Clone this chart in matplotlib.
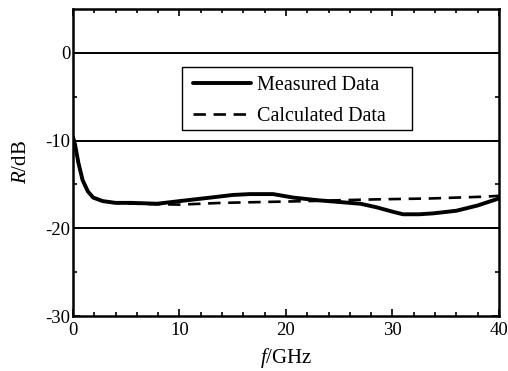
import matplotlib
matplotlib.use("Agg")
import matplotlib.pyplot as plt
from matplotlib.patches import Rectangle
import numpy as np

plt.rcParams['font.family'] = ['Liberation Serif', 'DejaVu Serif']
plt.rcParams['mathtext.fontset'] = 'custom'
plt.rcParams['mathtext.it'] = 'Liberation Serif:italic'
plt.rcParams['mathtext.rm'] = 'Liberation Serif'
plt.rcParams['axes.unicode_minus'] = False

# Measured data (f in GHz, R in dB)
meas_f = [0.0, 0.2, 0.5, 0.9, 1.4, 1.9, 2.8, 4.0, 5.5, 7.9, 10.0, 12.9, 15.0, 16.6,
          18.8, 20.7, 23.0, 25.0, 27.0, 28.5, 30.0, 31.0, 32.5, 33.8, 36.0, 38.0, 39.0, 40.0]
meas_R = [-9.6, -10.5, -12.5, -14.5, -15.8, -16.5, -16.9, -17.1, -17.1, -17.2, -16.9, -16.5, -16.2, -16.1,
          -16.1, -16.5, -16.8, -17.0, -17.2, -17.6, -18.1, -18.4, -18.4, -18.3, -18.0, -17.4, -17.0, -16.6]

# Calculated data
calc_f = [0.0, 0.2, 0.5, 0.9, 1.4, 1.9, 2.8, 4.0, 6.0, 10.0, 14.0, 17.9, 22.0, 25.0, 28.5, 33.5, 38.5, 40.0]
calc_R = [-9.6, -10.5, -12.5, -14.5, -15.8, -16.5, -16.9, -17.1, -17.2, -17.3, -17.1, -17.0, -16.9, -16.8, -16.7, -16.6, -16.4, -16.3]

xticks = [0, 10, 20, 30, 40]
yticks = [-30, -20, -10, 0]

fig = plt.figure(figsize=(5.08, 3.71), dpi=100)
ax = fig.add_axes([0.1437, 0.148, 0.8383, 0.828])

for y in [-20, -10, 0]:
    ax.axhline(y, color='black', lw=1.4, zorder=1)

ax.plot(meas_f, meas_R, color='black', lw=2.8, solid_capstyle='round', label='Measured Data', zorder=3)
ax.plot(calc_f, calc_R, color='black', lw=1.9, dashes=(4.7, 2.9), label='Calculated Data', zorder=2)

ax.set_xlim(0, 40)
ax.set_ylim(-30, 5)
ax.set_xticks(xticks)
ax.set_yticks(yticks)
ax.set_xticks(np.arange(0, 41, 2), minor=True)
ax.set_yticks([-25, -15, -5], minor=True)
ax.tick_params(which='both', direction='in', top=True, right=True, labelsize=13.5, width=1.2)
ax.tick_params(axis='x', which='both', pad=4)
ax.tick_params(axis='y', which='both', pad=2)
ax.tick_params(which='major', length=5)
ax.tick_params(which='minor', length=3)
for s in ax.spines.values():
    s.set_linewidth(1.8)

ax.set_xlabel('$f$/GHz', fontsize=15, labelpad=5)
ax.set_ylabel('$R$/dB', fontsize=15, labelpad=10)

# legend frame drawn separately so it can be wider than its content
ax.add_patch(Rectangle((0.256, 0.606), 0.54, 0.205, transform=ax.transAxes,
                       facecolor='white', edgecolor='black', lw=1.0, zorder=4))
leg = ax.legend(loc='center left', bbox_to_anchor=(0.282, 0.701),
                fontsize=14.5, frameon=False, handlelength=2.9,
                borderpad=0, labelspacing=0.6, handletextpad=0.25, borderaxespad=0)
leg.set_zorder(5)

fig.savefig('out.png', dpi=100)
